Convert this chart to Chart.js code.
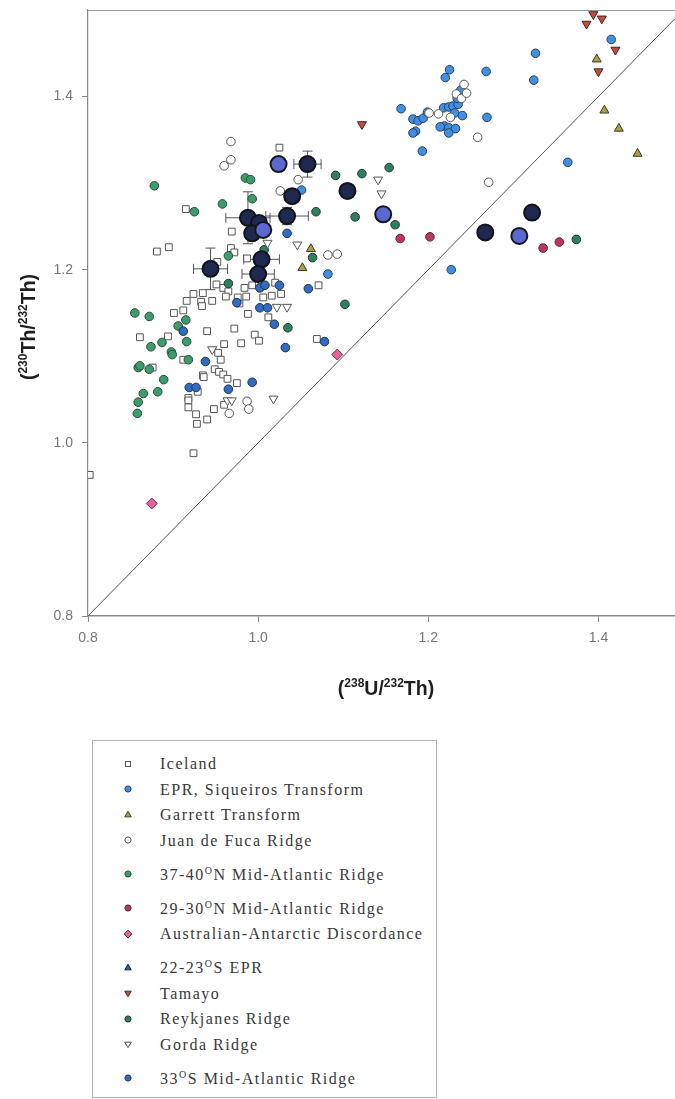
<!DOCTYPE html>
<html>
<head>
<meta charset="utf-8">
<script src="https://cdn.jsdelivr.net/npm/chart.js@4.4.0/dist/chart.umd.min.js"></script>
<style>
  html, body { margin: 0; padding: 0; background: #fff; }
  #wrap { position: relative; width: 675px; height: 1099px; overflow: hidden; }
  #chart { position: absolute; left: 0; top: 0; }
  #legend {
    position: absolute; left: 92px; top: 740px; width: 345px; height: 358px;
    border: 1px solid #b4b4b4; box-sizing: border-box; padding-top: 10px;
    font-family: "Liberation Serif", "Times New Roman", serif; font-size: 16px;
    letter-spacing: 1.5px; color: #383838;
  }
  .item { position: relative; height: 25.5px; line-height: 25.5px; padding-left: 67px; white-space: nowrap; }
  .item.hasSup { margin-top: 8.5px; }
  .item svg { position: absolute; left: 29px; top: 6.75px; }
  sup { font-size: 10px; line-height: 0; vertical-align: 0; position: relative; top: -6px; }
</style>
</head>
<body>
<div id="wrap">
  <canvas id="chart" width="685" height="720"></canvas>
  <div id="legend"></div>
</div>
<script>
// axis ranges and ticks
const xRange = [0.8, 1.49];
const yRange = [0.8, 1.5];
const xTicks = [0.8, 1.0, 1.2, 1.4];
const yTicks = [0.8, 1.0, 1.2, 1.4];

// equiline
const equiX = [0.8, 1.5];
const equiY = [0.8, 1.5];

// Iceland
const icelandX = [1.025,0.915,0.881,0.895,0.969,0.968,0.972,0.952,0.987,1.071,0.951,0.959,0.965,0.962,0.984,0.993,0.986,1.006,1.016,1.027,1.020,0.924,0.935,0.916,0.933,0.934,0.946,0.978,0.976,0.901,0.912,0.988,1.012,0.861,0.894,0.940,0.972,0.996,1.001,0.980,0.960,0.956,0.912,0.876,0.949,0.954,0.959,0.964,0.935,0.936,0.975,0.929,0.918,0.918,0.918,0.927,0.928,0.940,0.948,0.960,0.953,0.924,0.802,1.069];
const icelandY = [1.341,1.270,1.221,1.226,1.244,1.225,1.220,1.209,1.213,1.182,1.183,1.179,1.175,1.169,1.179,1.182,1.169,1.168,1.170,1.172,1.185,1.172,1.173,1.164,1.163,1.158,1.164,1.161,1.168,1.150,1.153,1.149,1.145,1.122,1.123,1.129,1.132,1.125,1.118,1.115,1.114,1.096,1.096,1.087,1.085,1.082,1.079,1.074,1.078,1.076,1.069,1.059,1.052,1.049,1.041,1.033,1.022,1.027,1.039,1.044,1.104,0.988,0.963,1.120];

// EPR, Siqueiros Transform
const eprX = [1.415,1.326,1.324,1.268,1.269,1.364,1.227,1.225,1.220,1.168,1.193,1.182,1.188,1.194,1.199,1.185,1.182,1.218,1.224,1.229,1.235,1.234,1.238,1.231,1.240,1.219,1.224,1.232,1.224,1.214,1.051,1.082];
const eprY = [1.466,1.450,1.419,1.429,1.376,1.324,1.200,1.431,1.422,1.386,1.337,1.374,1.372,1.375,1.382,1.360,1.358,1.387,1.388,1.389,1.391,1.398,1.407,1.381,1.378,1.366,1.364,1.363,1.358,1.365,1.292,1.195];

// Garrett Transform
const garrettX = [1.398,1.407,1.424,1.446,1.062,1.052];
const garrettY = [1.443,1.384,1.363,1.334,1.224,1.202];

// Juan de Fuca Ridge
const juanX = [0.968,0.968,0.960,1.026,1.047,1.082,1.093,0.987,0.989,0.966,1.258,1.271,1.242,1.233,1.239,1.212,1.245,1.226,1.201];
const juanY = [1.348,1.327,1.320,1.291,1.304,1.217,1.218,1.048,1.039,1.034,1.353,1.301,1.414,1.403,1.398,1.380,1.404,1.376,1.381];

// 37-40 N MAR
const mar37X = [0.878,0.985,0.991,0.958,0.925,0.993,0.965,0.855,0.872,0.906,0.915,0.874,0.887,0.898,0.899,0.916,0.918,0.859,0.861,0.872,0.889,0.882,0.865,0.859,0.858];
const mar37Y = [1.297,1.306,1.304,1.276,1.267,1.282,1.216,1.150,1.146,1.135,1.142,1.111,1.116,1.105,1.102,1.117,1.096,1.087,1.089,1.085,1.073,1.059,1.057,1.047,1.034];

// 29-30 N MAR
const mar29X = [1.167,1.202,1.335,1.354];
const mar29Y = [1.236,1.238,1.225,1.232];

// Australian-Antarctic Discordance
const aadX = [0.875,1.093];
const aadY = [0.930,1.102];

// 22-23 S EPR
const epr22X = [];
const epr22Y = [];

// Tamayo
const tamayoX = [1.122,1.394,1.404,1.386,1.420,1.400];
const tamayoY = [1.368,1.495,1.490,1.484,1.454,1.429];

// Reykjanes Ridge
const reykX = [1.068,1.091,1.122,1.154,1.114,1.161,1.374,1.064,1.102,1.035,0.965,1.007];
const reykY = [1.267,1.309,1.311,1.318,1.261,1.252,1.235,1.214,1.160,1.133,1.184,1.223];

// Gorda Ridge
const gordaX = [1.141,1.145,1.046,1.011,1.022,1.034,0.946,0.964,0.969,1.018];
const gordaY = [1.304,1.288,1.229,1.231,1.157,1.157,1.108,1.049,1.049,1.051];

// 33 S MAR
const mar33X = [1.034,1.059,1.002,1.008,1.025,1.002,1.011,1.019,1.032,1.078,0.912,0.938,0.919,0.927,0.965,0.993,0.975];
const mar33Y = [1.242,1.178,1.179,1.182,1.182,1.156,1.156,1.137,1.110,1.117,1.129,1.094,1.064,1.064,1.062,1.070,1.162];

// large symbols (this study), dark and light fill, with errors
const studyX = [1.058,1.040,1.105,0.988,1.034,1.001,0.993,1.004,1.000,0.944,1.322,1.267];
const studyY = [1.322,1.285,1.291,1.260,1.262,1.254,1.242,1.212,1.195,1.201,1.266,1.243];
const studyXErr = [0.016,0,0,0.026,0.025,0,0,0.021,0.019,0.020,0,0];
const studyYErr = [0.015,0,0,0.030,0.010,0,0,0,0.015,0.024,0,0];
const study2X = [1.024,1.006,1.147,1.307];
const study2Y = [1.322,1.246,1.264,1.239];

function pts(xs, ys) {
  return xs.map((x, i) => ({ x: x, y: ys[i] }));
}

const legendItems = [
  { label: 'Iceland', xs: icelandX, ys: icelandY, shape: 'rect', r: 4.8, bg: '#ffffff', bd: '#555' },
  { label: 'EPR, Siqueiros Transform', xs: eprX, ys: eprY, shape: 'circle', r: 4.3, bg: '#3f90e2', bd: '#2a3d5a' },
  { label: 'Garrett Transform', xs: garrettX, ys: garrettY, shape: 'triangle', r: 5.2, bg: '#a9a043', bd: '#3a3a2a' },
  { label: 'Juan de Fuca Ridge', xs: juanX, ys: juanY, shape: 'circle', r: 4.3, bg: '#ffffff', bd: '#555' },
  { label: '37-40<sup>O</sup>N Mid-Atlantic Ridge', xs: mar37X, ys: mar37Y, shape: 'circle', r: 4.3, bg: '#3d9c6c', bd: '#2a4a3a' },
  { label: '29-30<sup>O</sup>N Mid-Atlantic Ridge', xs: mar29X, ys: mar29Y, shape: 'circle', r: 4.3, bg: '#c2335f', bd: '#4a2a34' },
  { label: 'Australian-Antarctic Discordance', xs: aadX, ys: aadY, shape: 'rectRot', r: 5.5, bg: '#e8619c', bd: '#4a3a40' },
  { label: '22-23<sup>O</sup>S EPR', xs: epr22X, ys: epr22Y, shape: 'triangle', r: 5.2, bg: '#2d5a86', bd: '#223' },
  { label: 'Tamayo', xs: tamayoX, ys: tamayoY, shape: 'triangle', rot: 180, r: 5.2, bg: '#c94b3a', bd: '#3a2a2a' },
  { label: 'Reykjanes Ridge', xs: reykX, ys: reykY, shape: 'circle', r: 4.3, bg: '#2f7f60', bd: '#22392f' },
  { label: 'Gorda Ridge', xs: gordaX, ys: gordaY, shape: 'triangle', rot: 180, r: 5.2, bg: '#ffffff', bd: '#555' },
  { label: '33<sup>O</sup>S Mid-Atlantic Ridge', xs: mar33X, ys: mar33Y, shape: 'circle', r: 4.3, bg: '#2f6cc2', bd: '#22304a' }
];

const datasets = legendItems.map((it, i) => ({
  type: 'scatter',
  label: it.label,
  data: pts(it.xs, it.ys),
  pointStyle: it.shape,
  rotation: it.rot || 0,
  pointRadius: it.r,
  pointBackgroundColor: it.bg,
  pointBorderColor: it.bd,
  pointBorderWidth: 1,
  order: 20 - i
}));

datasets.push({
  type: 'scatter', label: 'study light', data: pts(study2X, study2Y),
  pointStyle: 'circle', pointRadius: 8, pointBackgroundColor: '#5a68cf',
  pointBorderColor: '#15171f', pointBorderWidth: 2, order: 0
});
datasets.push({
  type: 'scatter', label: 'study', data: pts(studyX, studyY),
  pointStyle: 'circle', pointRadius: 8, pointBackgroundColor: '#1f2850',
  pointBorderColor: '#111318', pointBorderWidth: 2, order: 1
});
datasets.push({
  type: 'line', label: 'equiline', data: pts(equiX, equiY),
  borderColor: '#555', borderWidth: 1, pointRadius: 0, fill: false, order: 100
});

// top frame line + error bars
const framePlugin = {
  id: 'frame',
  beforeDatasetsDraw(chart) {
    const ctx = chart.ctx, a = chart.chartArea;
    const sx = chart.scales.x, sy = chart.scales.y;
    ctx.save();
    ctx.strokeStyle = '#999';
    ctx.lineWidth = 1.2;
    ctx.beginPath();
    ctx.moveTo(a.left, a.top + 0.5);
    ctx.lineTo(a.right, a.top + 0.5);
    ctx.stroke();

    ctx.strokeStyle = '#555';
    ctx.lineWidth = 1;
    const cap = 5;
    studyX.forEach((x, i) => {
      const px = sx.getPixelForValue(x), py = sy.getPixelForValue(studyY[i]);
      if (studyXErr[i] > 0) {
        const l = sx.getPixelForValue(x - studyXErr[i]), r = sx.getPixelForValue(x + studyXErr[i]);
        ctx.beginPath();
        ctx.moveTo(l, py); ctx.lineTo(r, py);
        ctx.moveTo(l, py - cap); ctx.lineTo(l, py + cap);
        ctx.moveTo(r, py - cap); ctx.lineTo(r, py + cap);
        ctx.stroke();
      }
      if (studyYErr[i] > 0) {
        const t = sy.getPixelForValue(studyY[i] + studyYErr[i]), b = sy.getPixelForValue(studyY[i] - studyYErr[i]);
        ctx.beginPath();
        ctx.moveTo(px, t); ctx.lineTo(px, b);
        ctx.moveTo(px - cap, t); ctx.lineTo(px + cap, t);
        ctx.moveTo(px - cap, b); ctx.lineTo(px + cap, b);
        ctx.stroke();
      }
    });
    ctx.restore();
  }
};

// axis titles with superscripts
function drawRich(ctx, parts, cx, cy, rotate) {
  const big = 'bold 19.5px "Liberation Sans", Arial, sans-serif';
  const small = 'bold 12px "Liberation Sans", Arial, sans-serif';
  ctx.save();
  ctx.translate(cx, cy);
  if (rotate) ctx.rotate(-Math.PI / 2);
  let w = 0;
  parts.forEach(p => { ctx.font = p[1] ? small : big; w += ctx.measureText(p[0]).width; });
  let x = -w / 2;
  ctx.fillStyle = '#1e1e1e';
  ctx.textBaseline = 'alphabetic';
  parts.forEach(p => {
    ctx.font = p[1] ? small : big;
    ctx.fillText(p[0], x, p[1] ? -1 : 7);
    x += ctx.measureText(p[0]).width;
  });
  ctx.restore();
}

const titlePlugin = {
  id: 'titles',
  afterDraw(chart) {
    const ctx = chart.ctx;
    drawRich(ctx, [['(', 0], ['238', 1], ['U/', 0], ['232', 1], ['Th)', 0]], 386, 688, false);
    drawRich(ctx, [['(', 0], ['230', 1], ['Th/', 0], ['232', 1], ['Th)', 0]], 28, 327, true);
  }
};

const tickFont = { family: '"Liberation Sans", Arial, sans-serif', size: 14 };

new Chart(document.getElementById('chart'), {
  data: { datasets: datasets },
  options: {
    responsive: false,
    animation: false,
    layout: { padding: { top: 8, left: 0, right: 0, bottom: 0 } },
    plugins: { legend: { display: false }, tooltip: { enabled: false } },
    scales: {
      x: {
        type: 'linear', min: xRange[0], max: xRange[1],
        afterBuildTicks: s => { s.ticks = xTicks.map(v => ({ value: v })); },
        afterFit: s => { s.height = 104; s.paddingLeft = 0; s.paddingRight = 0; },
        ticks: { callback: v => v.toFixed(1), font: tickFont, color: '#777', padding: 8 },
        grid: { drawOnChartArea: false, tickLength: 6, color: '#888' },
        border: { color: '#8a8a8a', width: 1.5 }
      },
      y: {
        type: 'linear', min: yRange[0], max: yRange[1],
        afterBuildTicks: s => { s.ticks = yTicks.map(v => ({ value: v })); },
        afterFit: s => { s.width = 88; s.paddingTop = 0; s.paddingBottom = 0; },
        ticks: { callback: v => v.toFixed(1), font: tickFont, color: '#777', padding: 9 },
        grid: { drawOnChartArea: false, tickLength: 6, color: '#888' },
        border: { color: '#8a8a8a', width: 1.2 }
      }
    }
  },
  plugins: [framePlugin, titlePlugin]
});

// html legend from the same series
function markerSvg(it) {
  const s = 12, c = 6, r = it.r * 0.72;
  let shape = '';
  const st = 'fill="' + it.bg + '" stroke="' + it.bd + '" stroke-width="1"';
  if (it.shape === 'circle') shape = '<circle cx="' + c + '" cy="' + c + '" r="' + r + '" ' + st + '/>';
  else if (it.shape === 'rect') { const h = r * 0.72; shape = '<rect x="' + (c - h) + '" y="' + (c - h) + '" width="' + 2 * h + '" height="' + 2 * h + '" ' + st + '/>'; }
  else if (it.shape === 'rectRot') shape = '<polygon points="' + c + ',' + (c - r) + ' ' + (c + r) + ',' + c + ' ' + c + ',' + (c + r) + ' ' + (c - r) + ',' + c + '" ' + st + '/>';
  else {
    const d = it.rot ? -1 : 1;
    const p = [[c, c - d * r], [c + r * 0.866, c + d * r * 0.5], [c - r * 0.866, c + d * r * 0.5]];
    shape = '<polygon points="' + p.map(q => q.join(',')).join(' ') + '" ' + st + '/>';
  }
  return '<svg width="' + s + '" height="' + s + '">' + shape + '</svg>';
}
const legendEl = document.getElementById('legend');
legendItems.forEach(it => {
  const div = document.createElement('div');
  div.className = 'item' + (it.label.indexOf('<sup>') >= 0 ? ' hasSup' : '');
  div.innerHTML = markerSvg(it) + it.label;
  legendEl.appendChild(div);
});
</script>
</body>
</html>
